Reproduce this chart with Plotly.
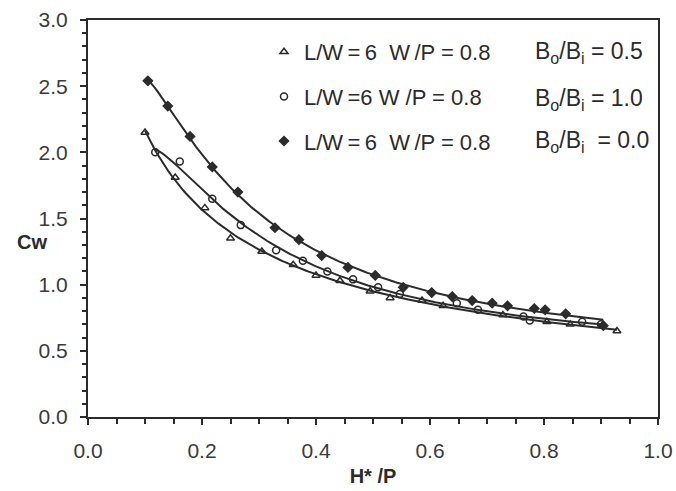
import numpy as np
import plotly.graph_objects as go

# ---- data ----
tri_x = [0.10, 0.153, 0.205, 0.25, 0.305, 0.36, 0.40, 0.442, 0.495, 0.53, 0.586, 0.623, 0.728, 0.805, 0.846, 0.928]
tri_y = [2.15, 1.81, 1.58, 1.35, 1.25, 1.15, 1.07, 1.03, 0.95, 0.90, 0.88, 0.84, 0.77, 0.72, 0.70, 0.65]

circ_x = [0.118, 0.161, 0.218, 0.268, 0.33, 0.377, 0.42, 0.465, 0.509, 0.547, 0.647, 0.684, 0.764, 0.775, 0.867, 0.90]
circ_y = [2.00, 1.93, 1.65, 1.45, 1.26, 1.18, 1.10, 1.04, 0.98, 0.93, 0.86, 0.81, 0.76, 0.73, 0.72, 0.70]

dia_x = [0.105, 0.14, 0.179, 0.218, 0.263, 0.328, 0.37, 0.41, 0.456, 0.504, 0.553, 0.603, 0.639, 0.674, 0.709, 0.736, 0.783, 0.802, 0.838, 0.904]
dia_y = [2.54, 2.35, 2.12, 1.89, 1.70, 1.43, 1.34, 1.22, 1.13, 1.07, 0.98, 0.94, 0.91, 0.88, 0.86, 0.84, 0.82, 0.81, 0.78, 0.69]

series_names = ["L/W\u2009=\u20096  W\u2009/P = 0.8", "L/W\u2009=6 W /P = 0.8", "L/W\u2009=\u20096  W\u2009/P = 0.8"]
ratio_labels = ["B<sub>o</sub>/B<sub>i</sub> = 0.5", "B<sub>o</sub>/B<sub>i</sub> = 1.0", "B<sub>o</sub>/B<sub>i</sub>  = 0.0"]
symbols = ["triangle-up-open", "circle-open", "diamond"]

x_ticks = [0.0, 0.2, 0.4, 0.6, 0.8, 1.0]
y_ticks = [0.0, 0.5, 1.0, 1.5, 2.0, 2.5, 3.0]

INK = "#2b2b2b"
FONT = "Liberation Sans, Arial, sans-serif"

# body margin is removed in the page, so plot area sits at 88..658 x 20..417
L, R, T, B = 88, 18, 20, 74
W, H = 676, 491
PW, PH = W - L - R, H - T - B

fig = go.Figure()

all_series = [(tri_x, tri_y), (circ_x, circ_y), (dia_x, dia_y)]
for i, (xs, ys) in enumerate(all_series):
    xs_a = np.array(xs)
    ys_a = np.array(ys)
    # trend curve fitted to the points (log-log cubic)
    coef = np.polyfit(np.log(xs_a), np.log(ys_a), 3)
    xf = np.linspace(xs_a.min(), xs_a.max(), 200)
    yf = np.exp(np.polyval(coef, np.log(xf)))
    fig.add_trace(go.Scatter(x=xf, y=yf, mode="lines", showlegend=False,
                             line=dict(color=INK, width=2), hoverinfo="skip"))
    fig.add_trace(go.Scatter(x=xs, y=ys, mode="markers", name=series_names[i],
                             legendgroup=f"g{i}",
                             marker=dict(symbol=symbols[i], size=7,
                                         color=INK,
                                         line=dict(color=INK, width=1.5))))

# positions below are relative to the plot area (plot-left = 0px, plot-top = 0px)
ann_py = [33, 79, 121]
for i, lab in enumerate(ratio_labels):
    fig.add_annotation(x=445 / PW, y=1 - ann_py[i] / PH, xref="paper", yref="paper",
                       text=lab, showarrow=False, xanchor="left", yanchor="middle",
                       font=dict(family=FONT, size=23, color=INK))

fig.add_annotation(x=-56 / PW, y=1 - 222 / PH, xref="paper", yref="paper",
                   text="<b>Cw</b>", showarrow=False, xanchor="center", yanchor="middle",
                   font=dict(family=FONT, size=20, color=INK))

fig.update_layout(
    width=W, height=H,
    margin=dict(l=L, r=R, t=T, b=B, autoexpand=False),
    paper_bgcolor="white", plot_bgcolor="white",
    font=dict(family=FONT, size=21, color="#3a3a3a"),
    legend=dict(x=176 / PW, y=1 - 11 / PH, xanchor="left", yanchor="top",
                bgcolor="rgba(0,0,0,0)", tracegroupgap=13, itemwidth=30,
                font=dict(family=FONT, size=22, color=INK)),
    xaxis=dict(range=[0, 1.0], tickvals=x_ticks, ticktext=[f"{v:.1f}" for v in x_ticks],
               automargin=False,
               ticks="outside", ticklen=6, tickwidth=1.5, tickcolor=INK,
               tickfont=dict(size=21, color="#3a3a3a"), ticklabelstandoff=8,
               minor=dict(dtick=0.05, ticks="outside", ticklen=5, tickcolor=INK, tickwidth=1.5),
               showline=True, linecolor=INK, linewidth=2, mirror=True,
               showgrid=False, zeroline=False,
               title=dict(text="<b>H* /P</b>", font=dict(size=20, color=INK), standoff=8)),
    yaxis=dict(range=[0, 3.0], tickvals=y_ticks, ticktext=[f"{v:.1f}" for v in y_ticks],
               automargin=False,
               ticks="outside", ticklen=6, tickwidth=1.5, tickcolor=INK,
               tickfont=dict(size=21, color="#3a3a3a"), ticklabelstandoff=8,
               minor=dict(dtick=0.1, ticks="outside", ticklen=4, tickcolor=INK, tickwidth=1.5),
               showline=True, linecolor=INK, linewidth=2, mirror=True,
               showgrid=False, zeroline=False),
)

fig.write_html("out.html",
               config={"displayModeBar": False},
               post_script="document.body.style.margin='0px';"
                           "document.documentElement.style.overflow='hidden';"
                           "document.body.style.overflow='hidden';")
